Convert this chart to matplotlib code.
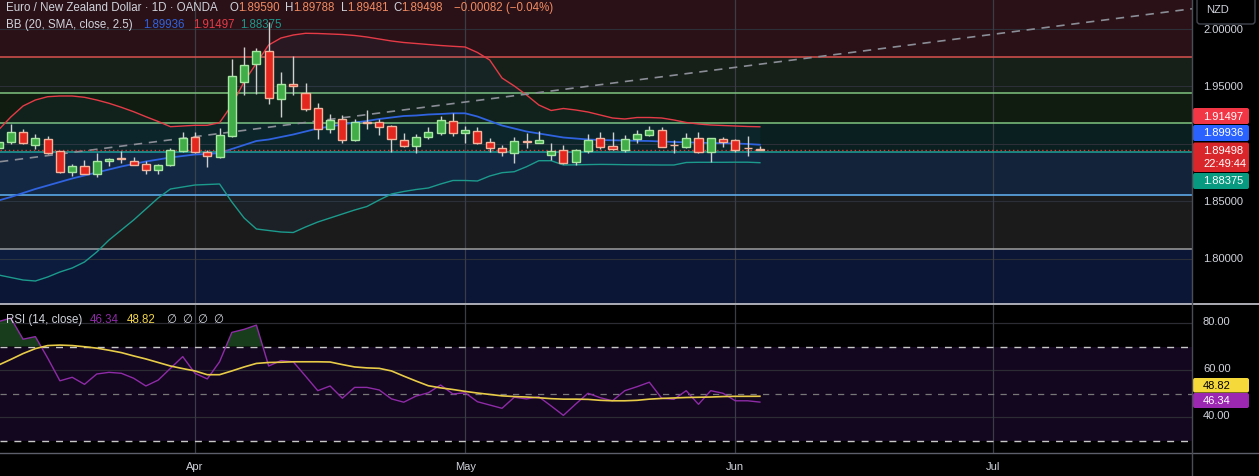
import matplotlib.pyplot as plt
from matplotlib.patches import Rectangle, FancyBboxPatch
import numpy as np

# EUR/NZD daily (OANDA), bar index 0 = 1 Apr 2025, first bar = 10 Mar
first_idx = -16
opens = [1.89626, 1.90148, 1.91018, 1.89939, 1.90409, 1.89365, 1.87592, 1.88087, 1.87418, 1.88496,
         1.88739, 1.88496, 1.88261, 1.87713, 1.88148, 1.89365, 1.90583, 1.89278, 1.88843, 1.90670,
         1.95365, 1.96931, 1.98087, 1.93939, 1.95218, 1.94409, 1.93105, 1.91278, 1.92148, 1.90322,
         1.91913, 1.91887, 1.91539, 1.90322, 1.89852, 1.90635, 1.90983, 1.91974, 1.90913, 1.91105,
         1.90148, 1.89626, 1.89243, 1.90218, 1.90113, 1.89017, 1.89452, 1.88409, 1.89418, 1.90496,
         1.89800, 1.89478, 1.90461, 1.90809, 1.91191, 1.89931, 1.89713, 1.90496, 1.89278, 1.90435,
         1.90322, 1.89635, 1.89590]
highs = [1.90348, 1.91739, 1.91278, 1.90870, 1.90696, 1.89418, 1.88261, 1.88609, 1.89243, 1.88783,
         1.89391, 1.88870, 1.88548, 1.88261, 1.89652, 1.91044, 1.91000, 1.89452, 1.91365, 1.97365,
         1.98461, 1.98322, 2.00609, 1.96261, 1.97652, 1.95305, 1.93539, 1.92583, 1.92522, 1.92148,
         1.92957, 1.92148, 1.91609, 1.90931, 1.90870, 1.91505, 1.92435, 1.92670, 1.91522, 1.91478,
         1.90479, 1.89896, 1.90609, 1.90931, 1.91105, 1.90113, 1.89913, 1.89565, 1.90870, 1.91044,
         1.91044, 1.90783, 1.91218, 1.91565, 1.91452, 1.90348, 1.90983, 1.91044, 1.90522, 1.90609,
         1.90392, 1.90696, 1.89788]
lows = [1.89478, 1.90000, 1.90000, 1.89565, 1.89130, 1.87505, 1.87244, 1.87348, 1.87157, 1.88113,
        1.88374, 1.88131, 1.87365, 1.87392, 1.88087, 1.89304, 1.89217, 1.88026, 1.88783, 1.90609,
        1.94235, 1.94348, 1.93452, 1.92374, 1.94235, 1.92896, 1.90461, 1.90983, 1.90061, 1.90261,
        1.91305, 1.90809, 1.89331, 1.89765, 1.89174, 1.90409, 1.90757, 1.90670, 1.90087, 1.89974,
        1.89304, 1.88913, 1.88322, 1.89678, 1.90113, 1.88609, 1.88261, 1.88148, 1.89191, 1.89539,
        1.89478, 1.89304, 1.90113, 1.90696, 1.89739, 1.89191, 1.89652, 1.89235, 1.88461, 1.89765,
        1.89278, 1.88983, 1.89481]
closes = [1.90148, 1.91018, 1.90061, 1.90496, 1.89191, 1.87592, 1.88087, 1.87418, 1.88496, 1.88696,
          1.88678, 1.88200, 1.87713, 1.88148, 1.89452, 1.90496, 1.89278, 1.88930, 1.90757, 1.95887,
          1.96844, 1.98087, 1.93974, 1.95218, 1.95018, 1.93070, 1.91278, 1.92061, 1.90322, 1.91887,
          1.91861, 1.91505, 1.90409, 1.89852, 1.90583, 1.91018, 1.92061, 1.90931, 1.91191, 1.90044,
          1.89626, 1.89261, 1.90235, 1.90183, 1.90348, 1.89365, 1.88322, 1.89452, 1.90348, 1.89765,
          1.89539, 1.90409, 1.90844, 1.91191, 1.89765, 1.89896, 1.90496, 1.89278, 1.90496, 1.90200,
          1.89478, 1.89609, 1.89498]

# Bollinger Bands (20, SMA, close, 2.5)
bb_upper = [1.91218, 1.92348, 1.93305, 1.93826, 1.94113, 1.94174, 1.94174, 1.94061, 1.93826, 1.93539,
            1.93191, 1.92809, 1.92374, 1.91957, 1.91505, 1.91565, 1.91626, 1.91626, 1.91852, 1.93391,
            1.95418, 1.97018, 1.98609, 1.99217, 1.99478, 1.99626, 1.99609, 1.99565, 1.99522, 1.99435,
            1.99304, 1.99130, 1.98957, 1.98826, 1.98739, 1.98652, 1.98565, 1.98496, 1.98435, 1.97957,
            1.97304, 1.95739, 1.95043, 1.94261, 1.93391, 1.92913, 1.93087, 1.92957, 1.92783, 1.92522,
            1.92261, 1.92174, 1.92304, 1.92304, 1.92261, 1.92087, 1.91870, 1.91739, 1.91652, 1.91609,
            1.91565, 1.91522, 1.91497]
bb_mid = [1.85087, 1.85391, 1.85739, 1.86087, 1.86391, 1.86696, 1.87000, 1.87261, 1.87522, 1.87783,
          1.88043, 1.88261, 1.88478, 1.88652, 1.88826, 1.88957, 1.89087, 1.89130, 1.89217, 1.89565,
          1.89913, 1.90261, 1.90392, 1.90609, 1.90826, 1.91087, 1.91348, 1.91522, 1.91696, 1.91870,
          1.92000, 1.92174, 1.92304, 1.92435, 1.92478, 1.92565, 1.92609, 1.92670, 1.92670, 1.92391,
          1.92000, 1.91609, 1.91348, 1.91087, 1.90913, 1.90739, 1.90565, 1.90478, 1.90392, 1.90348,
          1.90322, 1.90304, 1.90279, 1.90261, 1.90217, 1.90174, 1.90148, 1.90113, 1.90087, 1.90070,
          1.90044, 1.90000, 1.89936]
bb_lower = [1.78609, 1.78391, 1.78174, 1.78087, 1.78435, 1.78870, 1.79217, 1.79739, 1.80609, 1.81652,
            1.82522, 1.83391, 1.84348, 1.85304, 1.86087, 1.86261, 1.86435, 1.86478, 1.86522, 1.84957,
            1.83565, 1.82609, 1.82478, 1.82348, 1.82304, 1.82783, 1.83217, 1.83565, 1.83913, 1.84261,
            1.84565, 1.85130, 1.85652, 1.85870, 1.86043, 1.86174, 1.86522, 1.86826, 1.86826, 1.86783,
            1.87217, 1.87505, 1.87592, 1.88026, 1.88548, 1.88548, 1.88174, 1.88191, 1.88209, 1.88226,
            1.88217, 1.88200, 1.88191, 1.88183, 1.88174, 1.88174, 1.88391, 1.88409, 1.88409, 1.88409,
            1.88417, 1.88417, 1.88375]

# RSI (14, close) and its moving average
rsi = [80.6, 82.1, 73.1, 74.2, 65.1, 55.4, 56.9, 53.9, 58.3, 59.0,
       58.6, 56.5, 53.2, 55.7, 60.7, 65.7, 58.6, 56.2, 63.5, 76.0,
       77.3, 79.1, 61.7, 64.0, 63.5, 57.4, 51.2, 53.2, 48.0, 52.6,
       52.6, 51.5, 47.7, 46.3, 48.9, 50.3, 53.6, 49.8, 50.3, 46.5,
       45.1, 43.7, 48.4, 47.7, 48.6, 44.7, 40.7, 45.5, 50.1, 48.2,
       46.9, 51.2, 52.9, 54.8, 48.0, 47.5, 51.2, 45.4, 51.2, 50.1,
       46.9, 46.9, 46.34]
rsi_ma = [62.1, 64.5, 67.0, 69.1, 70.4, 70.6, 70.4, 69.9, 69.3, 68.4,
          67.4, 66.0, 64.7, 63.2, 61.7, 60.6, 59.6, 58.0, 58.0, 59.6,
          61.3, 62.8, 63.2, 63.3, 63.5, 63.5, 63.5, 63.4, 62.3, 61.3,
          60.9, 60.7, 59.6, 57.4, 55.3, 53.3, 52.4, 51.7, 50.9, 50.2,
          49.6, 49.0, 48.7, 48.5, 48.2, 47.8, 47.6, 47.6, 47.5, 47.1,
          46.9, 46.9, 47.1, 47.6, 47.9, 48.1, 48.3, 48.4, 48.5, 48.7,
          48.8, 48.8, 48.82]

# drawn horizontal levels (top to bottom) and trend line anchors
zone_levels = [1.97592, 1.94409, 1.91800, 1.89278, 1.85539, 1.80870]
trend_x = [-15.88, 81.19]
trend_y = [1.88461, 2.01760]
last_price = 1.89498

month_idx = [0, 22, 44, 65]
month_labels = ['Apr', 'May', 'Jun', 'Jul']
price_ticks = ['2.00000', '1.95000', '1.85000', '1.80000']
rsi_ticks = ['80.00', '60.00', '40.00']

W, H = 1259, 476
X0, X1 = -15.88, 81.19
P_TOP, P_BOT = 2.025217, 1.76130

zone_fill = ['#2a1117', '#161f18', '#111c11', '#0a1f20', '#13233a', '#1b1b1c', '#0b1636']
zone_line = ['#d9534f', '#7fc47f', '#7fc47f', '#1aa39a', '#64b5f6', '#9e9e9e']

idx = np.arange(first_idx, first_idx + len(closes))
o = np.array(opens); c = np.array(closes)
hi = np.array(highs); lo = np.array(lows)

plt.rcParams['font.family'] = ['Liberation Sans', 'DejaVu Sans']
fig = plt.figure(figsize=(W / 100, H / 100), dpi=100, facecolor='black')

def fy(y):
    return 1 - y / H

ax = fig.add_axes([0, fy(303.5), 1192 / W, 303.5 / H])
ax.set_xlim(X0, X1)
ax.set_ylim(P_BOT, P_TOP)
ax.axis('off')

bounds = [P_TOP + 1] + zone_levels + [P_BOT - 1]
for i in range(len(zone_fill)):
    ax.axhspan(bounds[i + 1], bounds[i], color=zone_fill[i], zorder=0, lw=0)
for lev in [1.80, 1.85, 1.90, 1.95, 2.00]:
    ax.axhline(lev, color='#2c2f38', lw=0.8, zorder=1)
for lev, col in zip(zone_levels, zone_line):
    ax.axhline(lev, color=col, lw=1.1, zorder=2)
for m in month_idx:
    ax.axvline(m, color='#3a3d46', lw=0.9, zorder=1)

ax.fill_between(idx, bb_lower, bb_upper, color='#2196f3', alpha=0.05, lw=0, zorder=2)
ax.plot(idx, bb_upper, color='#e53b47', lw=1, zorder=3)
ax.plot(idx, bb_mid, color='#2f63e0', lw=1.3, zorder=3)
ax.plot(idx, bb_lower, color='#1c9a8c', lw=1, zorder=3)

ax.plot(trend_x, trend_y, color='#8a8d96', lw=1.2, dashes=(5, 4), zorder=3)
ax.axhline(last_price, color='#e0342f', lw=1, ls=(0, (1, 2)), zorder=3)

up = c >= o
ax.vlines(idx, lo, hi, color='#cfcfcf', lw=1, zorder=4)
ax.bar(idx[up], c[up] - o[up], bottom=o[up], width=0.66, color='#40ad48',
       edgecolor='#a8e6a3', lw=1, zorder=5)
ax.bar(idx[~up], c[~up] - o[~up], bottom=o[~up], width=0.66, color='#e3261e',
       edgecolor='#f6b39b', lw=1, zorder=5)

# RSI pane
R_TOP = 80 + (323 - 305) / 2.35
R_BOT = 80 - (453 - 323) / 2.35
ax2 = fig.add_axes([0, fy(453), 1192 / W, (453 - 305) / H])
ax2.set_xlim(X0, X1)
ax2.set_ylim(R_BOT, R_TOP)
ax2.axis('off')
ax2.add_patch(Rectangle((0, 0), 1, 1, transform=ax2.transAxes, color='black', zorder=-1))
ax2.axhspan(30, 70, color='#13061f', lw=0, zorder=0)
for lev in [40, 60, 80]:
    ax2.axhline(lev, color='#2c2c34', lw=0.9, zorder=1)
for m in month_idx:
    ax2.axvline(m, color='#3a3d46', lw=0.9, zorder=1)
ax2.axhline(70, color='#c8c8c8', lw=1, dashes=(5, 5), zorder=2)
ax2.axhline(30, color='#c8c8c8', lw=1, dashes=(5, 5), zorder=2)
ax2.axhline(50, color='#777777', lw=0.9, dashes=(5, 5), zorder=2)
r = np.array(rsi)
ax2.fill_between(idx, 70, r, where=r > 70, interpolate=True, color='#1f4d24', alpha=0.8, lw=0, zorder=2)
ax2.plot(idx, rsi, color='#8e2ba6', lw=1, zorder=3)
ax2.plot(idx, rsi_ma, color='#e8cc48', lw=1.2, zorder=4)

# overlay in pixel coordinates for labels and tags
ov = fig.add_axes([0, 0, 1, 1], facecolor='none')
ov.set_xlim(0, W)
ov.set_ylim(H, 0)
ov.axis('off')
ov.plot([0, W], [304.2, 304.2], color='#b8bac2', lw=1.3)
ov.plot([0, W], [453.3, 453.3], color='#5d606b', lw=1)
ov.plot([1192.5, 1192.5], [0, H], color='#4a4d56', lw=1)

txt = '#d1d4dc'
fs = 8.0
for lab, yy in zip(price_ticks, [30, 87, 202, 259]):
    ov.text(1203, yy, lab, color=txt, fontsize=fs, va='center', ha='left')
for lab, yy in zip(rsi_ticks, [322, 369, 416]):
    ov.text(1203, yy, lab, color=txt, fontsize=fs, va='center', ha='left')
for m, lab in zip(month_idx, month_labels):
    xp = (m - X0) / (X1 - X0) * 1192
    ov.text(xp, 466.5, lab, color=txt, fontsize=fs, va='center', ha='center')

ov.add_patch(FancyBboxPatch((1197, -4), 58, 28, boxstyle='round,pad=0,rounding_size=3',
                            fc='black', ec='#434651', lw=1, zorder=5))
ov.text(1206, 10, 'NZD', color=txt, fontsize=fs, va='center', ha='left', zorder=6)

tags = [('1.91497', 108, 124, '#f23645', 'white'),
        ('1.89936', 125, 141, '#2962ff', 'white'),
        ('1.88375', 173, 189, '#089981', 'white'),
        ('48.82', 378, 392.5, '#f5d83a', 'black'),
        ('46.34', 393, 408, '#9c27b0', 'white')]
for lab, y0, y1, bg, fg in tags:
    ov.add_patch(FancyBboxPatch((1193, y0), 56, y1 - y0, boxstyle='round,pad=0,rounding_size=2',
                                fc=bg, ec='none'))
    ov.text(1203, (y0 + y1) / 2 + 0.5, lab, color=fg, fontsize=fs, va='center', ha='left')
ov.add_patch(FancyBboxPatch((1193, 142.5), 56, 29.5, boxstyle='round,pad=0,rounding_size=2',
                            fc='#d9262b', ec='none'))
ov.text(1203, 150.5, '1.89498', color='white', fontsize=fs, va='center', ha='left')
ov.text(1203, 164, '22:49:44', color='white', fontsize=fs, va='center', ha='left')

# legends
val = '#f08a62'
hs = 8.3
pieces = [('Euro / New Zealand Dollar · 1D · OANDA', 6, txt), ('O', 230, txt), ('1.89590', 238, val),
          ('H', 285, txt), ('1.89788', 293, val), ('L', 341, txt), ('1.89481', 347, val),
          ('C', 393, txt), ('1.89498', 401, val), ('−0.00082 (−0.04%)', 454, val)]
for s, xp, col in pieces:
    ov.text(xp, 8, s, color=col, fontsize=hs, va='center', ha='left')
pieces = [('BB (20, SMA, close, 2.5)', 6, txt), ('1.89936', 143, '#2f63e0'),
          ('1.91497', 193, '#e53b47'), ('1.88375', 240, '#1c9a8c')]
for s, xp, col in pieces:
    ov.text(xp, 25, s, color=col, fontsize=hs, va='center', ha='left')
pieces = [('RSI (14, close)', 6, txt), ('46.34', 90, '#8e2ba6'), ('48.82', 127, '#f0d44a'),
          ('∅', 166, txt), ('∅', 182, txt), ('∅', 197, txt), ('∅', 213, txt)]
for s, xp, col in pieces:
    ov.text(xp, 320, s, color=col, fontsize=hs, va='center', ha='left')

fig.savefig('out.png', dpi=100, facecolor='black')
